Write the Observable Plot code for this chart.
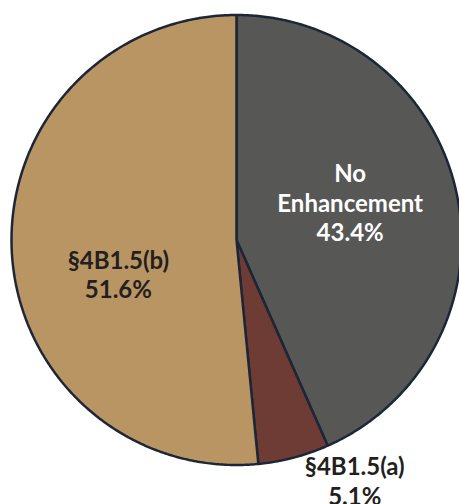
<!DOCTYPE html>
<html>
<head>
<meta charset="utf-8">
<script src="https://cdn.jsdelivr.net/npm/d3@7"></script>
<script src="https://cdn.jsdelivr.net/npm/@observablehq/plot@0.6"></script>
<style>
  html, body { margin: 0; padding: 0; background: #ffffff; }
  #chart svg { display: block; }
</style>
</head>
<body>
<div id="chart"></div>
<script>
// ---- data ----
const categories = ["No Enhancement", "§4B1.5(a)", "§4B1.5(b)"];
const labelNames = ["No\nEnhancement", "§4B1.5(a)", "§4B1.5(b)"];
const shares = [43.4, 5.1, 51.6];

// ---- styles / layout ----
const colors = ["#575756", "#6e3c34", "#b99563"];
const textColors = ["#ffffff", "#231f20", "#231f20"];
const W = 459, H = 504;
const CX = 236, CY = 239.5, R = 225;   // pie centre & radius in pixels

const arcs = d3.pie().sort(null).value(d => d)(shares);

// polygon points for each slice, in unit-radius coordinates
const pts = [];
arcs.forEach((a, i) => {
  const key = categories[i];
  pts.push({key, x: 0, y: 0});
  const n = Math.max(4, Math.ceil((a.endAngle - a.startAngle) / (Math.PI / 360)));
  for (let k = 0; k <= n; k++) {
    const t = a.startAngle + (a.endAngle - a.startAngle) * k / n;
    pts.push({key, x: Math.sin(t), y: Math.cos(t)});
  }
  pts.push({key, x: 0, y: 0});
});

const labels = arcs.map((a, i) => {
  const mid = (a.startAngle + a.endAngle) / 2;
  const k = i === 1 ? 1.0 : 0.53;
  return {
    key: categories[i],
    text: labelNames[i] + "\n" + shares[i].toFixed(1) + "%",
    x: k * Math.sin(mid),
    y: k * Math.cos(mid)
  };
});

const offsets = [[-3, -13], [61, 23], [1, 28]];
const textFont = {fontFamily: "Lato, 'Open Sans', sans-serif", fontWeight: 700, fontSize: 24, lineHeight: 1.22, lineAnchor: "middle", textAnchor: "middle"};

const chart = Plot.plot({
  width: W,
  height: H,
  margin: 0,
  x: {domain: [-CX / R, (W - CX) / R], axis: null},
  y: {domain: [-(H - CY) / R, CY / R], axis: null},
  color: {domain: categories, range: colors},
  style: {background: "#ffffff", overflow: "visible"},
  marks: [
    Plot.line(pts, {x: "x", y: "y", z: "key", fill: "key", stroke: "#1c2636", strokeWidth: 2.5, strokeLinejoin: "miter", curve: "linear"}),
    ...labels.map((d, i) => Plot.text([d], {
      x: "x", y: "y", text: "text",
      fill: textColors[i],
      dx: offsets[i][0], dy: offsets[i][1],
      ...textFont
    }))
  ]
});
document.getElementById("chart").appendChild(chart);
</script>
</body>
</html>
